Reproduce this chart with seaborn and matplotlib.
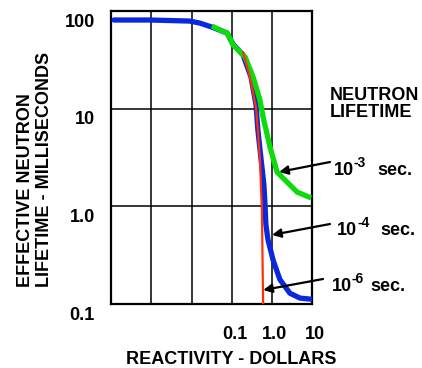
import matplotlib
matplotlib.use("Agg")
import matplotlib.pyplot as plt
import matplotlib.transforms as mtransforms
import seaborn as sns

# Curves (reactivity in dollars, effective lifetime in ms)
x_1e4 = [1.15e-4, 9.1e-4, 9.1e-3, 0.0162, 0.0324, 0.0776, 0.109, 0.194, 0.307, 0.41,
         0.457, 0.55, 0.646, 0.692, 0.724, 0.813, 1.1, 1.62, 2.88, 5.13, 9.8]
y_1e4 = [81, 81, 79, 75.3, 68.5, 59.6, 45.9, 35.5, 21.1, 10.9,
         6.0, 3.0, 1.66, 0.99, 0.65, 0.457, 0.28, 0.178, 0.129, 0.115, 0.112]

x_1e3 = [0.0324, 0.0513, 0.0776, 0.110, 0.219, 0.347, 0.513, 0.617, 0.912, 1.38, 4.37, 9.8]
y_1e3 = [70.1, 64.0, 59.6, 44.9, 33.9, 21.1, 12.3, 8.2, 4.07, 2.24, 1.40, 1.22]

x_1e6 = [0.195, 0.288, 0.407, 0.457, 0.513, 0.575, 0.617]
y_1e6 = [38, 21.1, 10.4, 6.0, 3.0, 0.91, 0.1]

x_ticks = [1e-3, 1e-2, 1e-1, 1, 10]
x_labels = ["", "", "0.1", "1.0", "10"]
y_ticks = [0.1, 1, 10, 100]
y_labels = ["0.1", "1.0", "10", "100"]
exponents = ["-3", "-4", "-6"]

sns.set_style("white")
plt.rcParams["font.family"] = ["Liberation Sans", "DejaVu Sans"]
plt.rcParams["font.weight"] = "bold"
plt.rcParams["text.color"] = "black"
plt.rcParams["axes.labelcolor"] = "black"
plt.rcParams["xtick.color"] = "black"
plt.rcParams["ytick.color"] = "black"

fig = plt.figure(figsize=(4.22, 3.68), dpi=100)
ax = fig.add_axes([0.2642, 0.1739, 0.474, 0.796])

sns.lineplot(x=x_1e4, y=y_1e4, ax=ax, color="#0a28dc", linewidth=3.8, sort=False,
             estimator=None, solid_capstyle="round", zorder=3)
sns.lineplot(x=x_1e3, y=y_1e3, ax=ax, color="#0cdc0c", linewidth=3.8, sort=False,
             estimator=None, solid_capstyle="butt", zorder=4)
sns.lineplot(x=x_1e6, y=y_1e6, ax=ax, color="#ff3008", linewidth=1.6, sort=False,
             estimator=None, zorder=5)

ax.set_xscale("log")
ax.set_yscale("log")
ax.set_xlim(1e-4, 10)
ax.set_ylim(0.1, 100)
ax.minorticks_off()
ax.set_xticks(x_ticks, x_labels)
ax.set_yticks(y_ticks, y_labels)
ax.tick_params(length=0, labelsize=13, colors="black")
ax.tick_params(axis="x", pad=16)
ax.tick_params(axis="y", pad=12)
ax.grid(True, color="black", linewidth=1.1)
for s in ax.spines.values():
    s.set_color("black")
    s.set_linewidth(1.6)

# the original prints the value labels a little off their grid lines
y_off = mtransforms.ScaledTranslation(0, -0.09, fig.dpi_scale_trans)
for lbl in ax.get_yticklabels():
    lbl.set_transform(lbl.get_transform() + y_off)
    lbl.set_fontweight("bold")
x_off = mtransforms.ScaledTranslation(0.03, 0, fig.dpi_scale_trans)
for lbl in ax.get_xticklabels():
    lbl.set_transform(lbl.get_transform() + x_off)
    lbl.set_fontweight("bold")

ax.set_xlabel("REACTIVITY - DOLLARS", fontsize=13, fontweight="bold", va="center")
ax.xaxis.set_label_coords(0.6, -0.188)
ax.set_ylabel("EFFECTIVE NEUTRON\nLIFETIME - MILLISECONDS", fontsize=13,
              fontweight="bold", va="center", multialignment="left")
ax.yaxis.set_label_coords(-0.382, 0.461)

fig.text(330 / 422, 1 - 104 / 368, "NEUTRON\nLIFETIME", fontsize=13,
         fontweight="bold", ha="left", va="center", linespacing=0.95)

# arrow tip (data), arrow tail (fig px), text start (fig px), "sec." start (fig px)
notes = [
    ((1.55, 2.25), (330, 206), (334, 193), 377),
    ((1.03, 0.51), (330, 144), (337, 133), 380),
    ((0.62, 0.139), (323, 89), (332, 77), 370),
]
for exp, (tip, tail, pos, sec_x) in zip(exponents, notes):
    ax.annotate("", xy=tip, xycoords="data", xytext=tail, textcoords="figure pixels",
                arrowprops=dict(arrowstyle="-|>", color="black", lw=1.6,
                                mutation_scale=13, shrinkA=0, shrinkB=0),
                annotation_clip=False)
    fig.text(pos[0] / 422, pos[1] / 368, "10", fontsize=13, fontweight="bold",
             ha="left", va="baseline")
    fig.text((pos[0] + 20) / 422, (pos[1] + 8) / 368, exp, fontsize=10,
             fontweight="bold", ha="left", va="baseline")
    fig.text(sec_x / 422, pos[1] / 368, "sec.", fontsize=13, fontweight="bold",
             ha="left", va="baseline")

fig.savefig("out.png", dpi=100)
